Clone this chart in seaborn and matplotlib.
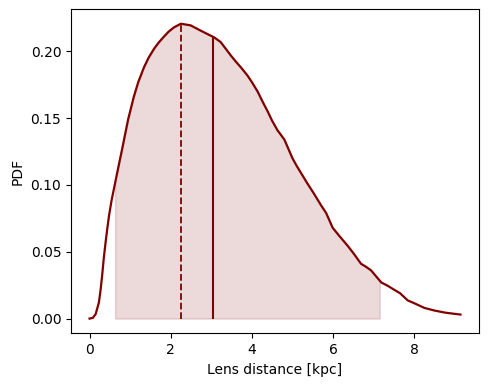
import numpy as np
import pandas as pd
import matplotlib
matplotlib.use("Agg")
import matplotlib.pyplot as plt
import seaborn as sns

# Curve (lens distance in kpc, PDF)
distance = [0.0, 0.08, 0.15, 0.23, 0.27, 0.31, 0.35, 0.395, 0.44, 0.48, 0.54, 0.60,
            0.66, 0.714, 0.80, 0.89, 0.95, 1.09, 1.2, 1.34, 1.45, 1.59, 1.7, 1.83,
            1.95, 2.08, 2.25, 2.49, 2.74, 3.07, 3.23, 3.48, 3.6, 3.73, 3.89, 4.0,
            4.14, 4.27, 4.39, 4.5, 4.63, 4.80, 4.9, 5.00, 5.1, 5.21, 5.35, 5.54,
            5.7, 5.83, 5.99, 6.15, 6.36, 6.5, 6.69, 6.8, 6.94, 7.05, 7.19, 7.35,
            7.51, 7.65, 7.84, 8.0, 8.25, 8.5, 8.75, 8.95, 9.14]
pdf = [0.0, 0.0005, 0.0033, 0.012, 0.021, 0.032, 0.045, 0.057, 0.068, 0.077, 0.088, 0.097,
       0.106, 0.114, 0.1265, 0.140, 0.149, 0.166, 0.177, 0.188, 0.195, 0.202, 0.2065, 0.211,
       0.2148, 0.218, 0.2207, 0.2195, 0.2155, 0.2105, 0.207, 0.197, 0.1925, 0.188, 0.182, 0.177,
       0.170, 0.162, 0.155, 0.148, 0.141, 0.134, 0.127, 0.120, 0.1145, 0.109, 0.102, 0.093,
       0.085, 0.079, 0.068, 0.062, 0.0545, 0.049, 0.041, 0.039, 0.036, 0.032, 0.027, 0.0245,
       0.0215, 0.019, 0.0136, 0.0115, 0.008, 0.006, 0.0045, 0.0037, 0.003]

interval_low = 0.63
interval_high = 7.15
mode_value = 2.26
median_value = 3.05

color = "#800000"

df = pd.DataFrame({"distance": distance, "pdf": pdf})
x = np.asarray(distance)
y = np.asarray(pdf)

fig, ax = plt.subplots(figsize=(4.91, 3.86), dpi=100)
fig.subplots_adjust(left=0.1446, right=0.9756, bottom=0.1365, top=0.9767)

# shaded interval
inside = x[(x > interval_low) & (x < interval_high)]
xf = np.concatenate([[interval_low], inside, [interval_high]])
yf = np.interp(xf, x, y)
ax.fill_between(xf, 0, yf, color=color, alpha=0.15, linewidth=1.0)

# mode (dashed) and median (solid)
ax.vlines(mode_value, 0, np.interp(mode_value, x, y), color=color,
          linestyle="--", linewidth=1.3)
ax.vlines(median_value, 0, np.interp(median_value, x, y), color=color,
          linestyle="-", linewidth=1.5)

sns.lineplot(data=df, x="distance", y="pdf", color=color, linewidth=1.6, ax=ax)

ax.set_xlabel("Lens distance [kpc]")
ax.set_ylabel("PDF")
ax.set_xticks([0, 2, 4, 6, 8])
ax.set_yticks([0.0, 0.05, 0.10, 0.15, 0.20])
ax.set_yticklabels(["0.00", "0.05", "0.10", "0.15", "0.20"])

fig.savefig("out.png", dpi=100)
